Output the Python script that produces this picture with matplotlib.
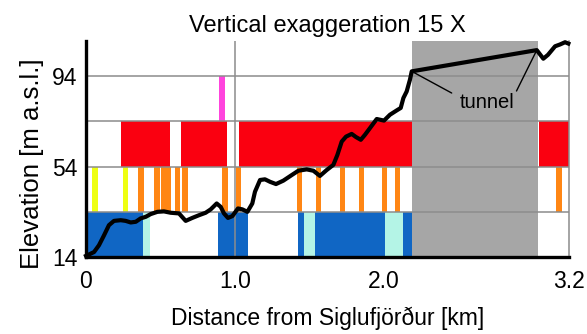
import matplotlib
matplotlib.use("Agg")
import matplotlib.pyplot as plt

plt.rcParams['font.family'] = ['Liberation Sans', 'DejaVu Sans']

# elevation profile (km, m a.s.l.)
dist_km = [0.0, 0.054, 0.087, 0.121, 0.154, 0.188, 0.233, 0.266, 0.300, 0.334,
           0.367, 0.401, 0.434, 0.479, 0.523, 0.568, 0.624, 0.669, 0.713, 0.758,
           0.803, 0.837, 0.877, 0.904, 0.926, 0.953, 0.982, 1.020, 1.049, 1.083,
           1.116, 1.134, 1.168, 1.201, 1.235, 1.275, 1.324, 1.381, 1.425, 1.481,
           1.526, 1.570, 1.615, 1.660, 1.687, 1.716, 1.745, 1.783, 1.812, 1.844,
           1.872, 1.906, 1.951, 2.000, 2.040, 2.085, 2.112, 2.130, 2.152, 2.174,
           2.186, 3.025, 3.069, 3.100, 3.148, 3.181, 3.215, 3.237]
elev_m = [14.5, 16.2, 19.2, 23.6, 28.1, 30.0, 30.3, 30.0, 29.3, 29.6,
          31.1, 31.8, 33.0, 34.0, 34.2, 33.6, 33.3, 30.0, 31.3, 32.5,
          33.6, 35.1, 37.7, 36.2, 33.3, 31.3, 32.1, 35.5, 35.1, 34.0,
          37.7, 42.9, 48.1, 48.4, 47.3, 46.3, 47.8, 50.3, 52.2, 52.8,
          52.2, 49.9, 52.5, 54.8, 59.2, 65.1, 67.3, 68.5, 67.1, 65.9,
          68.1, 71.1, 75.1, 74.4, 77.0, 78.9, 80.0, 84.4, 87.3, 92.5,
          96.2, 105.6, 101.8, 103.5, 107.3, 108.1, 109.1, 108.5]

tunnel_start = 2.186
tunnel_end = 3.035

# band intervals (start, end) in km
blue_start = [0.0, 0.887, 1.425, 1.537, 2.125]
blue_end = [0.385, 1.087, 1.463, 2.007, 2.186]
cyan_start = [0.385, 1.463, 2.007]
cyan_end = [0.427, 1.537, 2.125]
yellow_start = [0.042, 0.248]
yellow_end = [0.081, 0.282]
orange_start = [0.351, 0.456, 0.505, 0.595, 0.646, 0.915, 1.008, 1.414, 1.544,
                1.705, 1.832, 1.989, 2.074, 3.154]
orange_end = [0.389, 0.497, 0.568, 0.629, 0.685, 0.953, 1.040, 1.447, 1.577,
              1.738, 1.866, 2.022, 2.107, 3.193]
red_start = [0.235, 0.638, 1.027, 3.043]
red_end = [0.564, 0.944, 2.186, 3.24]
magenta_start = [0.893]
magenta_end = [0.933]

x_end = 3.24
y_ticks = [14, 54, 94]
x_ticks = [0, 1.0, 2.0, x_end]
x_labels = ['0', '1.0', '2.0', '3.2']

fig = plt.figure(figsize=(5.87, 3.34), dpi=100)
ax = fig.add_axes([0.1465, 0.2305, 0.8225, 0.6465])


def band(starts, ends, y0, color):
    ax.broken_barh([(s, e - s) for s, e in zip(starts, ends)], (y0, 20),
                   facecolors=color, zorder=1)


band(blue_start, blue_end, 14, '#1066c4')
band(cyan_start, cyan_end, 14, '#b4f4e6')
band(yellow_start, yellow_end, 34, '#eeff12')
band(orange_start, orange_end, 34, '#ff8614')
band(red_start, red_end, 54, '#fa0010')
band(magenta_start, magenta_end, 74, '#ff44dd')

ax.axvspan(tunnel_start, tunnel_end, color='#a6a6a6', zorder=2, lw=0)

for y in [34, 54, 74, 94]:
    ax.axhline(y, color='#8c8c8c', lw=1.1, zorder=3)
ax.axvline(1.0, color='#8c8c8c', lw=1.1, zorder=3)

ax.plot(dist_km, elev_m, color='black', lw=3.0, zorder=5, clip_on=False,
        solid_joinstyle='round')

# tunnel label
i0 = dist_km.index(tunnel_start)
ax.text(2.69, 82.5, 'tunnel', fontsize=14.5, ha='center', va='center', zorder=6)
ax.annotate('', xy=(dist_km[i0], elev_m[i0]), xytext=(2.454, 86.6),
            arrowprops=dict(arrowstyle='-', lw=1.0, color='black',
                            shrinkA=0, shrinkB=0), zorder=6)
ax.annotate('', xy=(dist_km[i0 + 1], elev_m[i0 + 1]), xytext=(2.889, 87.5),
            arrowprops=dict(arrowstyle='-', lw=1.0, color='black',
                            shrinkA=0, shrinkB=0), zorder=6)

ax.set_xlim(0, x_end)
ax.set_ylim(14, 109.6)
ax.set_xticks(x_ticks)
ax.set_xticklabels(x_labels)
ax.set_yticks(y_ticks)
ax.tick_params(length=0, labelsize=16.5)
ax.tick_params(axis='x', pad=9.5)
ax.tick_params(axis='y', pad=6)

ax.spines['top'].set_visible(False)
ax.spines['right'].set_color('#8c8c8c')
ax.spines['right'].set_linewidth(1.1)
ax.spines['left'].set_linewidth(2.4)
ax.spines['bottom'].set_linewidth(2.4)
ax.spines['left'].set_zorder(6)
ax.spines['bottom'].set_zorder(6)

ax.set_title('Vertical exaggeration 15 X', fontsize=17, pad=6.5)
ax.set_xlabel('Distance from Siglufjörður [km]', fontsize=16.5, labelpad=10)
ax.set_ylabel('Elevation [m a.s.l.]', fontsize=18.5)
ax.yaxis.set_label_coords(-0.088, 0.43)

fig.savefig('out.png', dpi=100)
